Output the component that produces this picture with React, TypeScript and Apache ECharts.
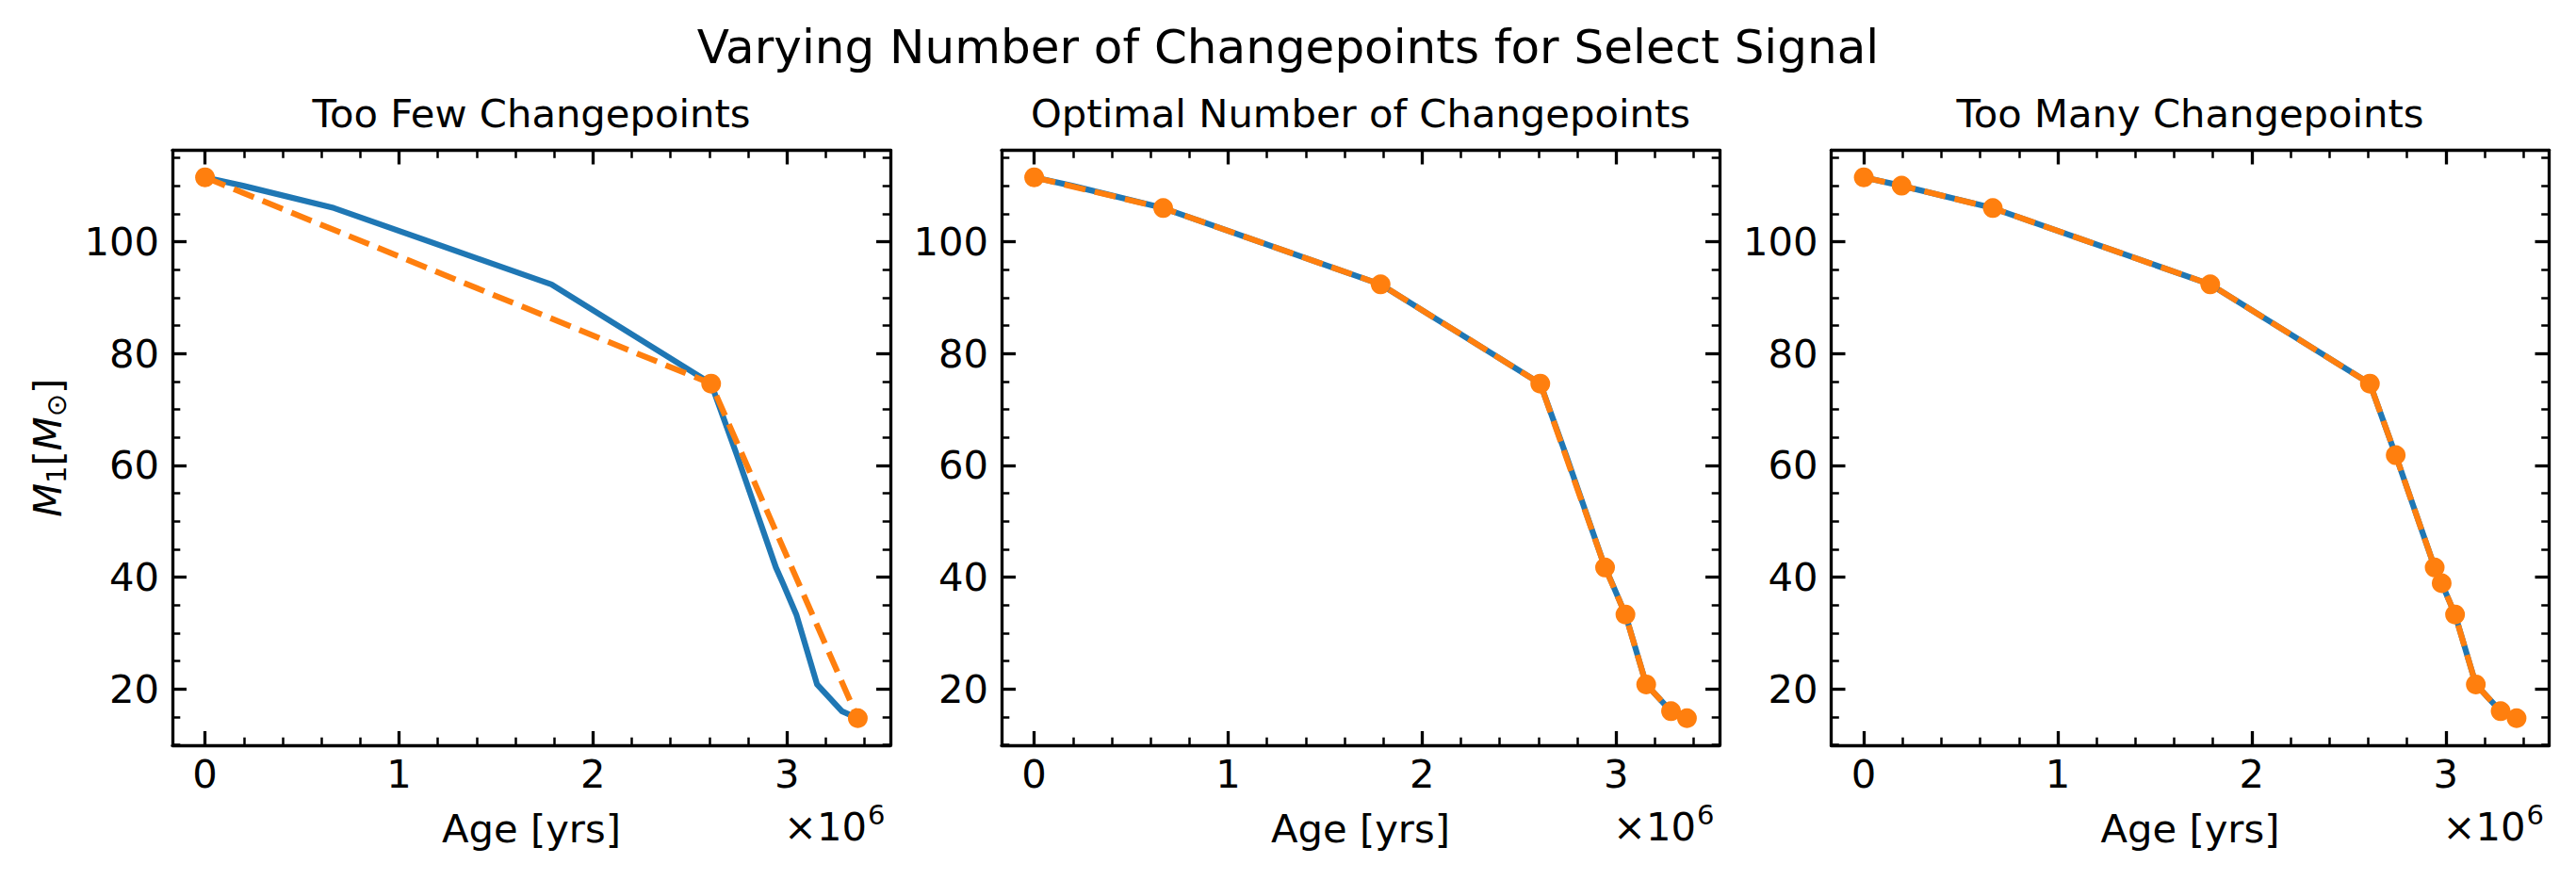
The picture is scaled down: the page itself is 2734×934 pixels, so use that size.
import React, { useEffect, useRef } from "react";
import * as echarts from "echarts";

// ---------- data (age in units of 10^6 yr, mass in solar masses) ----------
const SIGNAL_AGE = [0, 0.195, 0.665, 1.786, 2.609, 2.742, 2.943, 2.979, 3.048, 3.155, 3.283, 3.365];
const SIGNAL_MASS = [111.5, 110.0, 106.0, 92.35, 74.6, 61.8, 41.7, 38.9, 33.3, 20.8, 16.0, 14.75];

const FEW_AGE = [0, 2.609, 3.365];
const FEW_MASS = [111.5, 74.6, 14.75];

const OPT_AGE = [0, 0.665, 1.786, 2.609, 2.943, 3.048, 3.155, 3.283, 3.365];
const OPT_MASS = [111.5, 106.0, 92.35, 74.6, 41.7, 33.3, 20.8, 16.0, 14.75];

const MANY_AGE = [0, 0.195, 0.665, 1.786, 2.609, 2.742, 2.943, 2.979, 3.048, 3.155, 3.283, 3.365];
const MANY_MASS = [111.5, 110.0, 106.0, 92.35, 74.6, 61.8, 41.7, 38.9, 33.3, 20.8, 16.0, 14.75];

const PANEL_TITLES = ["Too Few Changepoints", "Optimal Number of Changepoints", "Too Many Changepoints"];
const SUPTITLE = "Varying Number of Changepoints for Select Signal";
const X_LABEL = "Age [yrs]";

const AGE_TICKS = [0, 1, 2, 3];
const AGE_MINOR = [0.2, 0.4, 0.6, 0.8, 1.2, 1.4, 1.6, 1.8, 2.2, 2.4, 2.6, 2.8, 3.2, 3.4];
const MASS_TICKS = [20, 40, 60, 80, 100];
const MASS_MINOR = [10, 15, 25, 30, 35, 45, 50, 55, 65, 70, 75, 85, 90, 95, 105, 110, 115];

// axis limits (matplotlib 5% auto margins)
const X_MIN = -0.168;
const X_MAX = 3.533;
const Y_MIN = 9.91;
const Y_MAX = 116.34;

// ---------- style / layout ----------
const FONT = "DejaVu Sans";
const BLUE = "#1f77b4";
const ORANGE = "#ff7f0e";
const PANEL_LEFT = [183, 1063, 1943.5];
const PANEL_W = 762;
const PANEL_TOP = 159.5;
const PANEL_H = 631.5;

const zip = (a: number[], b: number[]) => a.map((v, i) => [v, b[i]]);

function App() {
  const ref = useRef<HTMLDivElement>(null);

  useEffect(() => {
    if (!ref.current) return;
    const chart = echarts.init(ref.current, null, { renderer: "svg" });

    const fits = [zip(FEW_AGE, FEW_MASS), zip(OPT_AGE, OPT_MASS), zip(MANY_AGE, MANY_MASS)];
    const signal = zip(SIGNAL_AGE, SIGNAL_MASS);

    const grids: any[] = [];
    const xAxes: any[] = [];
    const yAxes: any[] = [];
    const series: any[] = [];
    const graphics: any[] = [];

    const majorTick = (vals: number[]) => ({
      show: true,
      inside: true,
      length: 15,
      customValues: vals,
      lineStyle: { color: "#000", width: 3.3 },
    });
    const minorTick = (vals: number[]) => ({
      show: true,
      inside: true,
      length: 8.3,
      customValues: vals,
      lineStyle: { color: "#000", width: 2.5 },
    });
    const line = { show: true, onZero: false, lineStyle: { color: "#000", width: 3.3 } };
    const noLine = { show: false, onZero: false };

    for (let g = 0; g < 3; g++) {
      grids.push({
        left: PANEL_LEFT[g],
        top: PANEL_TOP,
        width: PANEL_W,
        height: PANEL_H,
        containLabel: false,
      });
      const xb = { type: "value", gridIndex: g, min: X_MIN, max: X_MAX, splitLine: { show: false } };
      const yb = { type: "value", gridIndex: g, min: Y_MIN, max: Y_MAX, splitLine: { show: false } };
      xAxes.push(
        {
          ...xb,
          position: "bottom",
          axisLine: line,
          axisTick: majorTick(AGE_TICKS),
          axisLabel: {
            show: true,
            customValues: AGE_TICKS,
            margin: 30.5,
            verticalAlign: "middle",
            fontSize: 41.7,
            fontFamily: FONT,
            color: "#000",
            formatter: (v: number) => String(Math.round(v)),
          },
        },
        { ...xb, position: "bottom", axisLine: noLine, axisTick: minorTick(AGE_MINOR), axisLabel: { show: false } },
        { ...xb, position: "top", axisLine: line, axisTick: majorTick(AGE_TICKS), axisLabel: { show: false } },
        { ...xb, position: "top", axisLine: noLine, axisTick: minorTick(AGE_MINOR), axisLabel: { show: false } }
      );
      yAxes.push(
        {
          ...yb,
          position: "left",
          axisLine: line,
          axisTick: majorTick(MASS_TICKS),
          axisLabel: {
            show: true,
            customValues: MASS_TICKS,
            margin: 14,
            fontSize: 41.7,
            fontFamily: FONT,
            color: "#000",
            formatter: (v: number) => String(Math.round(v)),
          },
        },
        { ...yb, position: "left", axisLine: noLine, axisTick: minorTick(MASS_MINOR), axisLabel: { show: false } },
        { ...yb, position: "right", axisLine: line, axisTick: majorTick(MASS_TICKS), axisLabel: { show: false } },
        { ...yb, position: "right", axisLine: noLine, axisTick: minorTick(MASS_MINOR), axisLabel: { show: false } }
      );

      series.push(
        {
          type: "line",
          xAxisIndex: g * 4,
          yAxisIndex: g * 4,
          data: signal,
          symbol: "none",
          showSymbol: false,
          lineStyle: { color: BLUE, width: 6.2, cap: "butt", join: "round" },
          z: 2,
          silent: true,
        },
        {
          type: "line",
          xAxisIndex: g * 4,
          yAxisIndex: g * 4,
          data: fits[g],
          symbol: "circle",
          symbolSize: 21,
          showAllSymbol: true,
          itemStyle: { color: ORANGE, borderWidth: 0 },
          lineStyle: { color: ORANGE, width: 6.2, type: [23, 10], cap: "butt", join: "round" },
          z: 3,
          silent: true,
        }
      );

      const cx = PANEL_LEFT[g] + PANEL_W / 2;
      const right = PANEL_LEFT[g] + PANEL_W;
      graphics.push(
        {
          type: "text",
          x: cx,
          y: 120.5,
          style: {
            text: PANEL_TITLES[g],
            fontSize: 41.7,
            fontFamily: FONT,
            fill: "#000",
            align: "center",
            verticalAlign: "middle",
            textAlign: "center",
            textVerticalAlign: "middle",
          },
        },
        {
          type: "text",
          x: cx,
          y: 879,
          style: {
            text: X_LABEL,
            fontSize: 41.7,
            fontFamily: FONT,
            fill: "#000",
            align: "center",
            verticalAlign: "middle",
            textAlign: "center",
            textVerticalAlign: "middle",
          },
        },
        {
          type: "text",
          x: right - 25,
          y: 877,
          style: {
            text: "×10",
            fontSize: 41.7,
            fontFamily: FONT,
            fill: "#000",
            align: "right",
            verticalAlign: "middle",
            textAlign: "right",
            textVerticalAlign: "middle",
          },
        },
        {
          type: "text",
          x: right - 24,
          y: 865,
          style: {
            text: "6",
            fontSize: 29,
            fontFamily: FONT,
            fill: "#000",
            align: "left",
            verticalAlign: "middle",
            textAlign: "left",
            textVerticalAlign: "middle",
          },
        }
      );
    }

    graphics.push(
      {
        type: "text",
        x: 1367,
        y: 49.5,
        style: {
          text: SUPTITLE,
          fontSize: 50,
          fontFamily: FONT,
          fill: "#000",
          align: "center",
          verticalAlign: "middle",
          textAlign: "center",
          textVerticalAlign: "middle",
        },
      },
      {
        type: "text",
        x: 50,
        y: PANEL_TOP + PANEL_H / 2,
        rotation: Math.PI / 2,
        style: {
          text: "{i|M}{s|1}{n|[}{i|M}{s|⊙}{n|]}",
          fontFamily: FONT,
          fill: "#000",
          align: "center",
          verticalAlign: "middle",
          textAlign: "center",
          textVerticalAlign: "middle",
          rich: {
            i: { fontStyle: "italic", fontSize: 41.7, fontFamily: FONT, lineHeight: 48, verticalAlign: "middle", fill: "#000" },
            n: { fontSize: 41.7, fontFamily: FONT, lineHeight: 48, verticalAlign: "middle", fill: "#000" },
            s: { fontSize: 29, fontFamily: FONT, lineHeight: 29, verticalAlign: "bottom", fill: "#000" },
          },
        },
      }
    );

    chart.setOption({
      animation: false,
      backgroundColor: "#ffffff",
      textStyle: { fontFamily: FONT },
      grid: grids,
      xAxis: xAxes,
      yAxis: yAxes,
      series,
      graphic: graphics,
    });

    return () => chart.dispose();
  }, []);

  return (
    <div
      ref={ref}
      style={{ position: "fixed", left: 0, top: 0, width: 2734, height: 934, background: "#fff" }}
    />
  );
}

export default App;
